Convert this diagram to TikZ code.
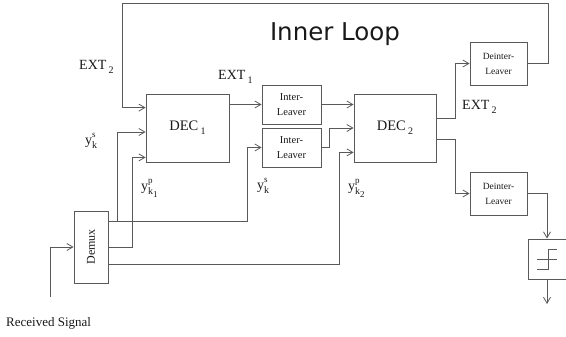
\documentclass[tikz,border=0pt]{standalone}
\usepackage{fontspec}
\setmainfont{Liberation Serif}
\newfontfamily\loopfont{DejaVu Sans}
\usetikzlibrary{arrows.meta}

% text with a lowered index, e.g. DEC 1
\newcommand{\idx}[2]{#1\,\raisebox{-4pt}{\fontsize{10}{10}\selectfont #2}}
% y with upper and lower index
\newcommand{\ylbl}[2]{y\rlap{\raisebox{7pt}{\fontsize{9}{9}\selectfont #1}}\raisebox{-4pt}{\fontsize{10}{10}\selectfont #2}}

\begin{document}
\begin{tikzpicture}[x=1pt,y=-1pt,
    blk/.style={draw=black!65, line width=0.8pt, align=center, inner sep=0pt, text=black!90},
    wire/.style={draw=black!65, line width=0.8pt},
    arr/.style={wire, -{Straight Barb[length=6pt,width=7pt]}},
    lbl/.style={font=\fontsize{14}{14}\selectfont, text=black!90, inner sep=0pt}]
    \useasboundingbox (0,0) rectangle (566,337);

    % blocks
    \node[blk, minimum width=83pt, minimum height=68pt, font=\fontsize{14.5}{14.5}\selectfont] (dec1) at (187.5,128) {\idx{DEC}{1}};
    \node[blk, minimum width=82pt, minimum height=68pt, font=\fontsize{14.5}{14.5}\selectfont] (dec2) at (395,128) {\idx{DEC}{2}};
    \node[blk, minimum width=59pt, minimum height=39pt, font=\fontsize{10.5}{15}\selectfont] (il1) at (291.5,104.5) {Inter-\\Leaver};
    \node[blk, minimum width=59pt, minimum height=39pt, font=\fontsize{10.5}{15}\selectfont] (il2) at (291.5,147.5) {Inter-\\Leaver};
    \node[blk, minimum width=57pt, minimum height=43pt, font=\fontsize{9.5}{15}\selectfont] (dil1) at (498.5,63.5) {Deinter-\\Leaver};
    \node[blk, minimum width=57pt, minimum height=43pt, font=\fontsize{9.5}{15}\selectfont] (dil2) at (498.5,193.5) {Deinter-\\Leaver};
    \node[blk, minimum width=34pt, minimum height=72pt] (demux) at (91,247) {};
    \node[rotate=90, font=\fontsize{12}{12}\selectfont, text=black!90] (demuxtxt) at (demux.center) {Demux};
    \node[blk, minimum width=38pt, minimum height=40pt] (lim) at (547,259) {};

    % limiter symbol
    \draw[wire] ([shift={(-10,10)}]lim.center) -- ++(11,0) -- ++(0,-20) -- ++(9,0);
    \draw[wire] ([shift={(-10,0)}]lim.center) -- ++(20,0);

    % inner loop feedback
    \coordinate (fbr) at (548,3);
    \coordinate (fbl) at (122,3);
    \draw[arr] (dil1.east) -| (fbr) -- (fbl) |- ([yshift=-14pt]dec1.north west);

    % forward path
    \draw[arr] (il1.west -| dec1.east) -- (il1.west);
    \draw[arr] (il1.east) -- (il1.east -| dec2.west);
    \draw[arr] (il2.east) -- ++(8,0) |- (dec2.west);
    \draw[arr] ([yshift=10pt]dec2.east) -- ++(19,0) |- (dil1.west);
    \draw[arr] ([yshift=-11pt]dec2.east) -- ++(19,0) |- (dil2.west);
    \draw[arr] (dil2.east) -| (lim.north);
    \coordinate (out) at (547,304);
    \draw[arr] (lim.south) -- (out);

    % received signal and demux outputs
    \coordinate (rx) at (50,297);
    \draw[arr] (rx) |- (demux.west);
    \draw[arr] ([yshift=26pt]demux.east) -- ++(139,0) |- (il2.west);
    \draw[arr] ([xshift=9pt,yshift=26pt]demux.east) |- ([yshift=-4pt]dec1.west);
    \draw[arr] (demux.east) -- ++(24,0) |- ([yshift=5pt]dec1.south west);
    \draw[arr] ([yshift=-17pt]demux.east) -- ++(231,0) |- ([yshift=10pt]dec2.south west);

    % labels
    \node[font=\loopfont\fontsize{24.5}{24.5}\selectfont, text=black!90] (title) at (335,34) {Inner Loop};
    \node[lbl, anchor=west] (ext2a) at (79,67) {\idx{EXT}{2}};
    \node[lbl, anchor=west] (ext1) at (218,77) {\idx{EXT}{1}};
    \node[lbl, anchor=west] (ext2b) at (462,107) {\idx{EXT}{2}};
    \node[lbl, anchor=west] (ys1) at (85,141) {\ylbl{s}{k}};
    \node[lbl, anchor=west] (yp1) at (141,188) {\ylbl{p}{k\raisebox{-3pt}{\fontsize{9}{9}\selectfont 1}}};
    \node[lbl, anchor=west] (ys2) at (257,186) {\ylbl{s}{k}};
    \node[lbl, anchor=west] (yp2) at (348,188) {\ylbl{p}{k\raisebox{-3pt}{\fontsize{9}{9}\selectfont 2}}};
    \node[font=\fontsize{13}{13}\selectfont, text=black!90, anchor=west, inner sep=0pt] (rxtxt) at (6,323) {Received Signal};
\end{tikzpicture}
\end{document}
